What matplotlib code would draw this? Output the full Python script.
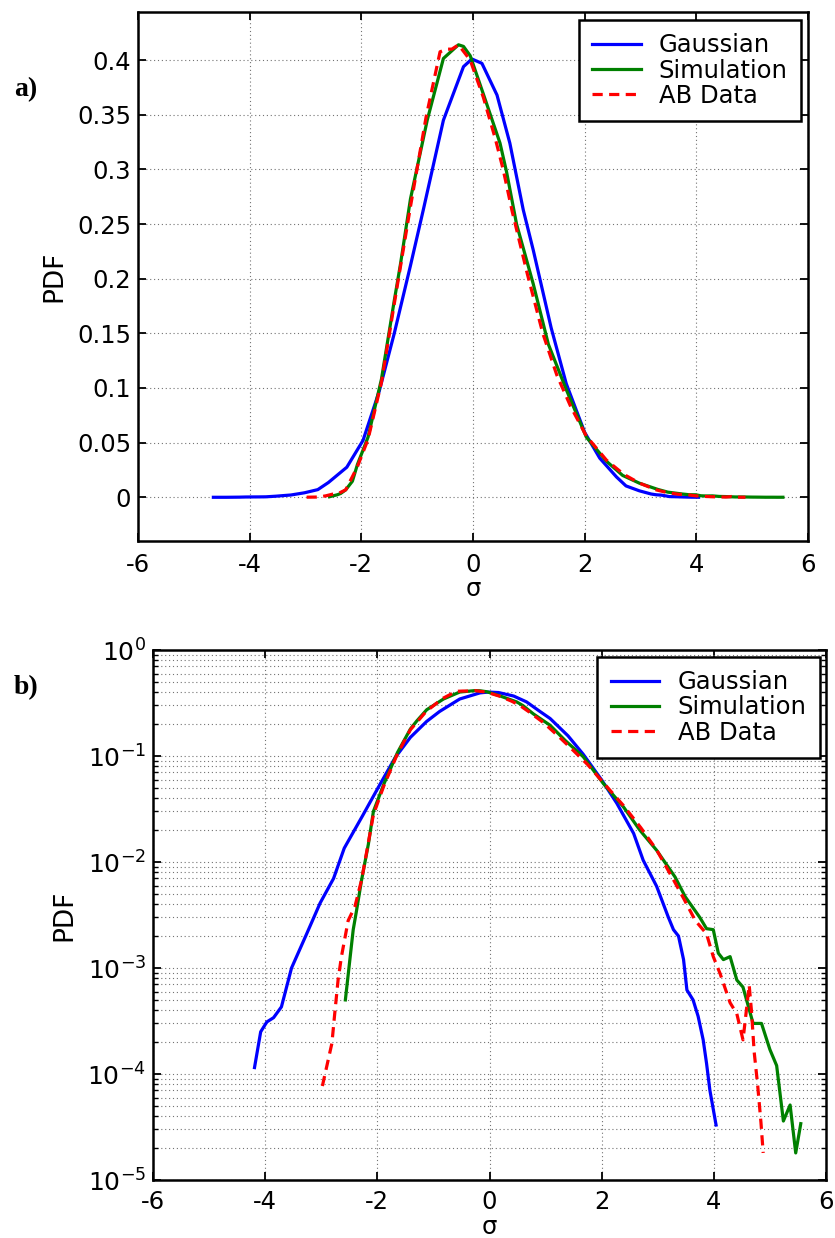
import numpy as np
import matplotlib
matplotlib.use('Agg')
import matplotlib.pyplot as plt
from matplotlib.ticker import LogLocator, NullFormatter, FixedLocator, FixedFormatter

plt.rcParams['font.family'] = ['DejaVu Sans']
plt.rcParams['axes.unicode_minus'] = False
plt.rcParams['mathtext.default'] = 'regular'

# ---------------- data ----------------
gauss_x = [-4.65, -4.42, -4.19, -4.08, -3.97, -3.85, -3.71, -3.53, -3.26, -3.02,
           -2.78, -2.59, -2.26, -1.97, -1.68, -1.41, -1.12, -0.89, -0.53, -0.17,
           -0.02, 0.16, 0.43, 0.66, 0.90, 1.08, 1.40, 1.67, 2.00, 2.27, 2.57,
           2.74, 2.98, 3.19, 3.28, 3.37, 3.46, 3.52, 3.63, 3.72, 3.81, 3.87,
           3.93, 4.04]
gauss_y = [0.0, 0.0, 1.15e-4, 2.5e-4, 3.1e-4, 3.4e-4, 4.3e-4, 1.0e-3, 2.1e-3, 4.1e-3,
           7.0e-3, 0.0135, 0.0275, 0.052, 0.097, 0.150, 0.212, 0.263, 0.345, 0.394,
           0.401, 0.397, 0.368, 0.324, 0.263, 0.226, 0.155, 0.104, 0.0594, 0.0358, 0.0186,
           0.0104, 5.9e-3, 3.0e-3, 2.3e-3, 2.0e-3, 1.2e-3, 6.2e-4, 5.0e-4, 3.5e-4, 2.1e-4,
           1.26e-4, 7.0e-5, 3.3e-5]

sim_x = [-2.57, -2.43, -2.37, -2.28, -2.16, -2.07, -1.88, -1.64, -1.41, -1.30,
         -1.12, -0.82, -0.53, -0.26, -0.17, -0.05, 0.185, 0.484, 0.60, 0.78,
         1.08, 1.35, 1.67, 2.03, 2.39, 2.68, 2.98, 3.31, 3.49, 3.75, 3.87,
         3.99, 4.08, 4.17, 4.29, 4.41, 4.52, 4.70, 4.85, 5.00, 5.12, 5.24,
         5.36, 5.46, 5.55]
sim_y = [5.0e-4, 2.3e-3, 3.5e-3, 6.8e-3, 0.0147, 0.030, 0.055, 0.108, 0.180, 0.213,
         0.273, 0.345, 0.4015, 0.414, 0.4125, 0.404, 0.369, 0.324, 0.298, 0.250,
         0.195, 0.140, 0.0986, 0.055, 0.033, 0.020, 0.0129, 7.2e-3, 4.7e-3, 3.0e-3, 2.35e-3,
         2.3e-3, 1.38e-3, 1.2e-3, 1.28e-3, 7.7e-4, 6.6e-4, 3.0e-4, 3.0e-4, 1.7e-4, 1.2e-4, 3.6e-5,
         5.1e-5, 1.8e-5, 3.4e-5]

ab_x = [-2.98, -2.81, -2.76, -2.70, -2.64, -2.52, -2.40, -2.28, -2.07, -1.88,
        -1.64, -1.41, -1.13, -0.84, -0.59, -0.47, -0.38, -0.26, -0.05, 0.185,
        0.40, 0.54, 0.70, 0.97, 1.25, 1.50, 1.75, 2.03, 2.39, 2.70, 2.98,
        3.28, 3.46, 3.67, 3.87, 3.99, 4.11, 4.29, 4.41, 4.52, 4.56, 4.63,
        4.67, 4.72, 4.78, 4.84, 4.88]
ab_y = [7.7e-5, 1.95e-4, 3.7e-4, 7.7e-4, 1.28e-3, 2.8e-3, 3.8e-3, 6.8e-3, 0.028, 0.053,
        0.105, 0.177, 0.263, 0.348, 0.4076, 0.410, 0.410, 0.414, 0.400, 0.366,
        0.328, 0.300, 0.262, 0.205, 0.150, 0.112, 0.083, 0.056, 0.034, 0.021, 0.0130,
        6.8e-3, 4.55e-3, 2.8e-3, 2.1e-3, 1.28e-3, 8.9e-4, 4.7e-4, 3.7e-4, 2.1e-4, 3.2e-4, 6.9e-4,
        4.0e-4, 1.6e-4, 8.0e-5, 3.5e-5, 1.8e-5]

series_labels = ['Gaussian', 'Simulation', 'AB Data']
x_ticks = [-6, -4, -2, 0, 2, 4, 6]
x_tick_labels = ['-6', '-4', '-2', '0', '2', '4', '6']
lin_y_ticks = [0, 0.05, 0.1, 0.15, 0.2, 0.25, 0.3, 0.35, 0.4]
lin_y_labels = ['0', '0.05', '0.1', '0.15', '0.2', '0.25', '0.3', '0.35', '0.4']
panel_labels = ['a)', 'b)']

# ---------------- styling ----------------
W, H = 835, 1238
fig = plt.figure(figsize=(W / 100, H / 100), dpi=100)
ax1 = fig.add_axes([138 / W, 1 - 541 / H, 670 / W, 529 / H])
ax2 = fig.add_axes([153 / W, 1 - 1180 / H, 673 / W, 530 / H])

colors = ['#0000ff', '#008000', '#ff0000']
LW = 2.3
TICK_FS = 17.5
grid_kw = dict(color='0.45', linestyle=(0, (1, 2.5)), linewidth=0.8)


def draw(ax, logscale):
    xs = [gauss_x, sim_x, ab_x]
    ys = [gauss_y, sim_y, ab_y]
    handles = []
    for i, (x, y) in enumerate(zip(xs, ys)):
        y = np.asarray(y, dtype=float)
        if logscale:
            y = np.where(y > 0, y, np.nan)
        if i == 2:
            h, = ax.plot(x, y, color=colors[i], lw=LW, dashes=(3.2, 2.0), zorder=3 + i)
        else:
            h, = ax.plot(x, y, color=colors[i], lw=LW, zorder=3 + i)
        handles.append(h)
    ax.set_xlim(-6, 6)
    ax.xaxis.set_major_locator(FixedLocator(x_ticks))
    ax.xaxis.set_major_formatter(FixedFormatter(x_tick_labels))
    for sp in ax.spines.values():
        sp.set_linewidth(1.8)
    ax.tick_params(which='major', direction='in', length=6, width=1.3,
                   top=True, right=True, labelsize=TICK_FS, pad=5)
    ax.tick_params(axis='x', which='major', pad=9)
    ax.set_axisbelow(True)
    return handles


h1 = draw(ax1, False)
ax1.set_ylim(-0.040, 0.444)
ax1.yaxis.set_major_locator(FixedLocator(lin_y_ticks))
ax1.yaxis.set_major_formatter(FixedFormatter(lin_y_labels))
ax1.grid(True, which='major', **grid_kw)
ax1.set_xlabel('σ', fontsize=TICK_FS, labelpad=0)
ax1.set_ylabel('PDF', fontsize=19, labelpad=7)

h2 = draw(ax2, True)
ax2.set_yscale('log')
ax2.set_ylim(1e-5, 1)
ax2.yaxis.set_major_locator(LogLocator(base=10, numticks=10))
ax2.yaxis.set_minor_locator(LogLocator(base=10, subs=np.arange(2, 10), numticks=20))
ax2.yaxis.set_minor_formatter(NullFormatter())
ax2.tick_params(axis='y', which='major', labelsize=18)
ax2.tick_params(axis='x', which='major', pad=7)
ax2.tick_params(axis='y', which='minor', direction='in', length=3.5, width=1.0,
                left=True, right=True)
ax2.grid(True, which='major', axis='x', **grid_kw)
ax2.grid(True, which='both', axis='y', **grid_kw)
ax2.set_xlabel('σ', fontsize=TICK_FS, va='center')
ax2.xaxis.set_label_coords(0.5, -0.088)
ax2.set_ylabel('PDF', fontsize=19, labelpad=7)

leg_kw = dict(loc='upper right', fontsize=TICK_FS, frameon=True, fancybox=False,
              edgecolor='black', framealpha=1, handlelength=2.0, handletextpad=0.75,
              labelspacing=0.05, borderpad=0.55, borderaxespad=0)
lg1 = ax1.legend(h1, series_labels, bbox_to_anchor=(0.9896, 0.985), **leg_kw)
lg2 = ax2.legend(h2, series_labels, bbox_to_anchor=(0.991, 0.987), **leg_kw)
for lg in (lg1, lg2):
    lg.get_frame().set_linewidth(1.8)
    lg.set_zorder(10)

fig.text(14 / W, 1 - 90 / H, panel_labels[0], ha='left', va='center',
         family='Liberation Serif', weight='bold', fontsize=20)
fig.text(14 / W, 1 - 688 / H, panel_labels[1], ha='left', va='center',
         family='Liberation Serif', weight='bold', fontsize=20)

fig.savefig('out.png', dpi=100)
